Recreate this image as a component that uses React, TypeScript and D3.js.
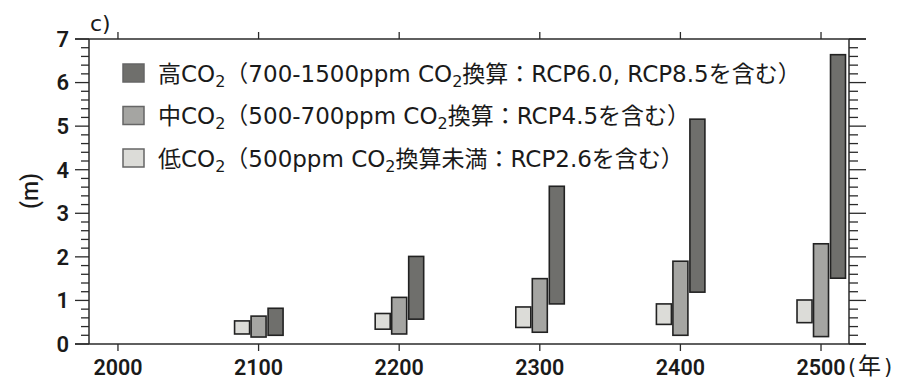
import React from "react";
import * as d3 from "d3";

const years = [2100, 2200, 2300, 2400, 2500];
const lowMin = [0.23, 0.34, 0.38, 0.45, 0.49];
const lowMax = [0.53, 0.70, 0.85, 0.92, 1.01];
const midMin = [0.16, 0.23, 0.27, 0.20, 0.17];
const midMax = [0.64, 1.07, 1.50, 1.90, 2.30];
const highMin = [0.20, 0.57, 0.92, 1.19, 1.51];
const highMax = [0.82, 2.01, 3.62, 5.16, 6.64];

const xTicks = [2000, 2100, 2200, 2300, 2400, 2500];
const yTicks = [0, 1, 2, 3, 4, 5, 6, 7];

const legendItems = [
  { pre: "高CO", mid: "（700-1500ppm CO", post: "換算：RCP6.0, RCP8.5を含む）", fill: "#6f6f6c" },
  { pre: "中CO", mid: "（500-700ppm CO", post: "換算：RCP4.5を含む）", fill: "#a5a5a2" },
  { pre: "低CO", mid: "（500ppm CO", post: "換算未満：RCP2.6を含む）", fill: "#dcdcd8" },
];

const W = 898;
const H = 380;
const L = 89, R = 849, T = 39, B = 344;

export default function App() {
  const x = d3.scaleLinear().domain([1979.4, 2519.9]).range([L, R]);
  const y = d3.scaleLinear().domain([0, 7]).range([B, T]);
  const minor = d3.range(0, 7.0001, 0.2).map((v) => +v.toFixed(1));
  const axisColor = "#2a2a2a";
  const series = [
    { min: lowMin, max: lowMax, off: -24, fill: "#dcdcd8" },
    { min: midMin, max: midMax, off: -7.5, fill: "#a5a5a2" },
    { min: highMin, max: highMax, off: 9.5, fill: "#6f6f6c" },
  ];
  const bw = 15;
  const leg = "'DejaVu Sans', 'Noto Sans CJK JP', sans-serif";
  const cjk = "'Noto Sans CJK JP', sans-serif";
  const num = "Roboto, 'Open Sans', sans-serif";
  const txt = "#1a1a1a";
  return (
    <svg width={W} height={H} style={{ position: "absolute", left: 0, top: 0 }}>
      <rect width={W} height={H} fill="#fff" />
      {/* frame */}
      <line x1={75} x2={866} y1={T} y2={T} stroke={axisColor} strokeWidth={1.5} />
      <line x1={75} x2={866} y1={B} y2={B} stroke={axisColor} strokeWidth={1.5} />
      <line x1={L} x2={L} y1={T} y2={B} stroke={axisColor} strokeWidth={1.5} />
      <line x1={R} x2={R} y1={T} y2={B} stroke={axisColor} strokeWidth={1.5} />
      {minor.map((v) => {
        const major = Math.abs(v - Math.round(v)) < 1e-6;
        return (
          <g key={v}>
            <line x1={major ? 75 : 81} x2={L} y1={y(v)} y2={y(v)} stroke={axisColor} strokeWidth={1.3} />
            <line x1={R} x2={major ? 866 : 858} y1={y(v)} y2={y(v)} stroke={axisColor} strokeWidth={1.3} />
          </g>
        );
      })}
      {xTicks.map((t) => (
        <g key={t}>
          <line x1={x(t)} x2={x(t)} y1={T} y2={T - 7} stroke={axisColor} strokeWidth={1.3} />
          <line x1={x(t)} x2={x(t)} y1={B} y2={B + 7} stroke={axisColor} strokeWidth={1.3} />
          <text x={x(t)} y={375} textAnchor="middle" fontFamily={num} fontWeight={600} fontSize={21.5} fill={txt}>
            {t}
          </text>
        </g>
      ))}
      {yTicks.map((t) => (
        <text key={t} x={69} y={y(t)} dy="0.36em" textAnchor="end" fontFamily={num} fontWeight={600} fontSize={22} fill={txt}>
          {t}
        </text>
      ))}
      <text x={848} y={374} fontFamily={leg} fontSize={21} fill={txt}>(</text>
      <text x={858} y={374} fontFamily={cjk} fontSize={23} fill={txt}>年</text>
      <text x={884} y={374} fontFamily={leg} fontSize={21} fill={txt}>)</text>
      <text transform={`translate(38,191) rotate(-90)`} textAnchor="middle" fontFamily={num} fontWeight={500} fontSize={23} fill={txt}>(m)</text>
      <text x={90} y={31} fontFamily={leg} fontSize={22} fill={txt}>c)</text>
      {/* bars */}
      {series.map((s, si) =>
        years.map((yr, i) => (
          <rect
            key={`${si}-${yr}`}
            x={x(yr) + s.off}
            y={y(s.max[i])}
            width={bw}
            height={y(s.min[i]) - y(s.max[i])}
            fill={s.fill}
            stroke="#222"
            strokeWidth={1.6}
          />
        ))
      )}
      {/* legend */}
      {legendItems.map((it, i) => {
        const cy = 73 + i * 42.5;
        return (
          <g key={i}>
            <rect x={123} y={cy - 9} width={21} height={18} fill={it.fill} stroke="#666" strokeWidth={1.5} />
            <text x={158} y={cy + 8.5} fontFamily={leg} fontSize={23} fill={txt}>
              {it.pre}
              <tspan fontSize={16} dy={5}>2</tspan>
              <tspan dy={-5}>{it.mid}</tspan>
              <tspan fontSize={16} dy={5}>2</tspan>
              <tspan dy={-5}>{it.post}</tspan>
            </text>
          </g>
        );
      })}
    </svg>
  );
}
